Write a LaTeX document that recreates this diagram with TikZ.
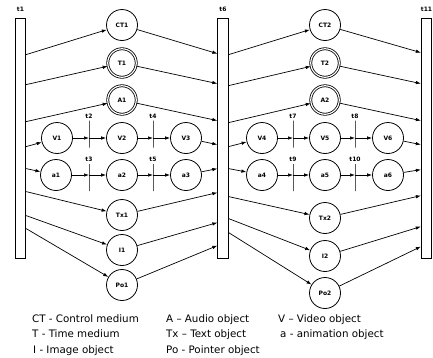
\documentclass[tikz,border=0pt]{standalone}
\usepackage{fontspec}
\setmainfont{DejaVu Sans}
\usetikzlibrary{arrows.meta}
\begin{document}
\begin{tikzpicture}[x=1pt,y=1pt]
    \tikzstyle{every node}+=[inner sep=0pt]
    \tikzstyle{obj}=[draw, circle, line width=0.8pt, minimum size=31pt, font=\bfseries\fontsize{6}{7}\selectfont]
    \tikzstyle{med}=[obj, double, double distance=1.2pt, minimum size=28.5pt]
    \tikzstyle{bar}=[draw, fill=white, line width=0.8pt, minimum width=10.5pt, minimum height=240pt]
    \tikzstyle{tr}=[draw, line width=0.8pt, minimum width=0pt, minimum height=27pt]
    \tikzstyle{every label}=[font=\bfseries\fontsize{6}{7}\selectfont, inner sep=1.5pt]
    \tikzstyle{arr}=[-{Latex[length=5pt,width=3.5pt]}, line width=0.7pt]
    \tikzstyle{key}=[anchor=base west, font=\fontsize{10.3}{12}\selectfont]
    \useasboundingbox (0,0) rectangle (433,-357);
    % time bars
    \node [bar, label={[label distance=4pt]above:t1}] (b1) at (20.5,-138) {};
    \node [bar, label={[label distance=4pt]above:t6}] (b2) at (223,-138) {};
    \node [bar, label={[label distance=4pt]above:t11}] (b3) at (426.5,-138) {};
    % first scene
    \node [obj] (CT1) at (122,-25) {CT1};
    \node [med] (T1) at (122,-63) {T1};
    \node [med] (A1) at (122,-100) {A1};
    \node [obj] (V1) at (57,-138) {V1};
    \node [obj] (V2) at (122,-138) {V2};
    \node [obj] (V3) at (186,-138) {V3};
    \node [obj] (a1) at (56,-175) {a1};
    \node [obj] (a2) at (122,-175) {a2};
    \node [obj] (a3) at (186,-175) {a3};
    \node [obj] (Tx1) at (122,-215) {Tx1};
    \node [obj] (I1) at (122,-250) {I1};
    \node [obj] (Po1) at (122,-285) {Po1};
    \node [tr, label=above:t2] (t2) at (89,-134) {};
    \node [tr, label=above:t3] (t3) at (89,-177.5) {};
    \node [tr, label=above:t4] (t4) at (153,-134) {};
    \node [tr, label=above:t5] (t5) at (153,-177.5) {};
    % second scene
    \node [obj] (CT2) at (325,-25) {CT2};
    \node [med] (T2) at (325,-63) {T2};
    \node [med] (A2) at (325,-100) {A2};
    \node [obj] (V4) at (262,-138) {V4};
    \node [obj] (V5) at (325,-138) {V5};
    \node [obj] (V6) at (388,-138) {V6};
    \node [obj] (a4) at (262,-175) {a4};
    \node [obj] (a5) at (325,-175) {a5};
    \node [obj] (a6) at (388,-175) {a6};
    \node [obj] (Tx2) at (325,-218) {Tx2};
    \node [obj] (I2) at (325,-256) {I2};
    \node [obj] (Po2) at (325,-293) {Po2};
    \node [tr, label=above:t7] (t7) at (293,-134) {};
    \node [tr, label=above:t9] (t9) at (293,-177.5) {};
    \node [tr, label=above:t8] (t8) at (355,-134) {};
    \node [tr, label=above:t10] (t10) at (355,-177.5) {};
    % t1 -> first scene
    \draw [arr] ([yshift=-37pt]b1.north east) -- (CT1);
    \draw [arr] ([yshift=-67pt]b1.north east) -- (T1);
    \draw [arr] ([yshift=-104pt]b1.north east) -- (A1);
    \draw [arr] ([yshift=-129pt]b1.north east) -- (V1);
    \draw [arr] ([yshift=-151pt]b1.north east) -- (a1);
    \draw [arr] ([yshift=-174pt]b1.north east) -- (Tx1);
    \draw [arr] ([yshift=-198pt]b1.north east) -- (I1);
    \draw [arr] ([yshift=-211pt]b1.north east) -- (Po1);
    \draw [arr] (V1) -- (V1 -| t2);
    \draw [arr] (V1 -| t2) -- (V2);
    \draw [arr] (V2) -- (V2 -| t4);
    \draw [arr] (V2 -| t4) -- (V3);
    \draw [arr] (a1) -- (a1 -| t3);
    \draw [arr] (a1 -| t3) -- (a2);
    \draw [arr] (a2) -- (a2 -| t5);
    \draw [arr] (a2 -| t5) -- (a3);
    % first scene -> t6
    \draw [arr] (CT1) -- ([yshift=-36pt]b2.north west);
    \draw [arr] (T1) -- ([yshift=-66pt]b2.north west);
    \draw [arr] (A1) -- ([yshift=-103pt]b2.north west);
    \draw [arr] (V3) -- ([yshift=-127pt]b2.north west);
    \draw [arr] (a3) -- ([yshift=-151pt]b2.north west);
    \draw [arr] (Tx1) -- ([yshift=-175pt]b2.north west);
    \draw [arr] (I1) -- ([yshift=-205pt]b2.north west);
    \draw [arr] (Po1) -- ([yshift=-228pt]b2.north west);
    % t6 -> second scene
    \draw [arr] ([yshift=-37pt]b2.north east) -- (CT2);
    \draw [arr] ([yshift=-68pt]b2.north east) -- (T2);
    \draw [arr] ([yshift=-105pt]b2.north east) -- (A2);
    \draw [arr] ([yshift=-129pt]b2.north east) -- (V4);
    \draw [arr] ([yshift=-151pt]b2.north east) -- (a4);
    \draw [arr] ([yshift=-179pt]b2.north east) -- (Tx2);
    \draw [arr] ([yshift=-201pt]b2.north east) -- (I2);
    \draw [arr] ([yshift=-215pt]b2.north east) -- (Po2);
    \draw [arr] (V4) -- (V4 -| t7);
    \draw [arr] (V4 -| t7) -- (V5);
    \draw [arr] (V5) -- (V5 -| t8);
    \draw [arr] (V5 -| t8) -- (V6);
    \draw [arr] (a4) -- (a4 -| t9);
    \draw [arr] (a4 -| t9) -- (a5);
    \draw [arr] (a5) -- (a5 -| t10);
    \draw [arr] (a5 -| t10) -- (a6);
    % second scene -> t11
    \draw [arr] (CT2) -- ([yshift=-35pt]b3.north west);
    \draw [arr] (T2) -- ([yshift=-66pt]b3.north west);
    \draw [arr] (A2) -- ([yshift=-103pt]b3.north west);
    \draw [arr] (V6) -- ([yshift=-127pt]b3.north west);
    \draw [arr] (a6) -- ([yshift=-152pt]b3.north west);
    \draw [arr] (Tx2) -- ([yshift=-178pt]b3.north west);
    \draw [arr] (I2) -- ([yshift=-209pt]b3.north west);
    \draw [arr] (Po2) -- ([yshift=-229pt]b3.north west);
    % legend
    \node [key] (kCT) at (32,-322) {CT - Control medium};
    \node [key] (kT) at (32,-337) {T - Time medium};
    \node [key] (kI) at (33,-353) {I - Image object};
    \node [key] (kA) at (166,-322) {A – Audio object};
    \node [key] (kTx) at (166,-337) {Tx – Text object};
    \node [key] (kPo) at (166,-353) {Po - Pointer object};
    \node [key] (kV) at (278,-322) {V – Video object};
    \node [key] (ka) at (280,-337) {a - animation object};
\end{tikzpicture}
\end{document}
